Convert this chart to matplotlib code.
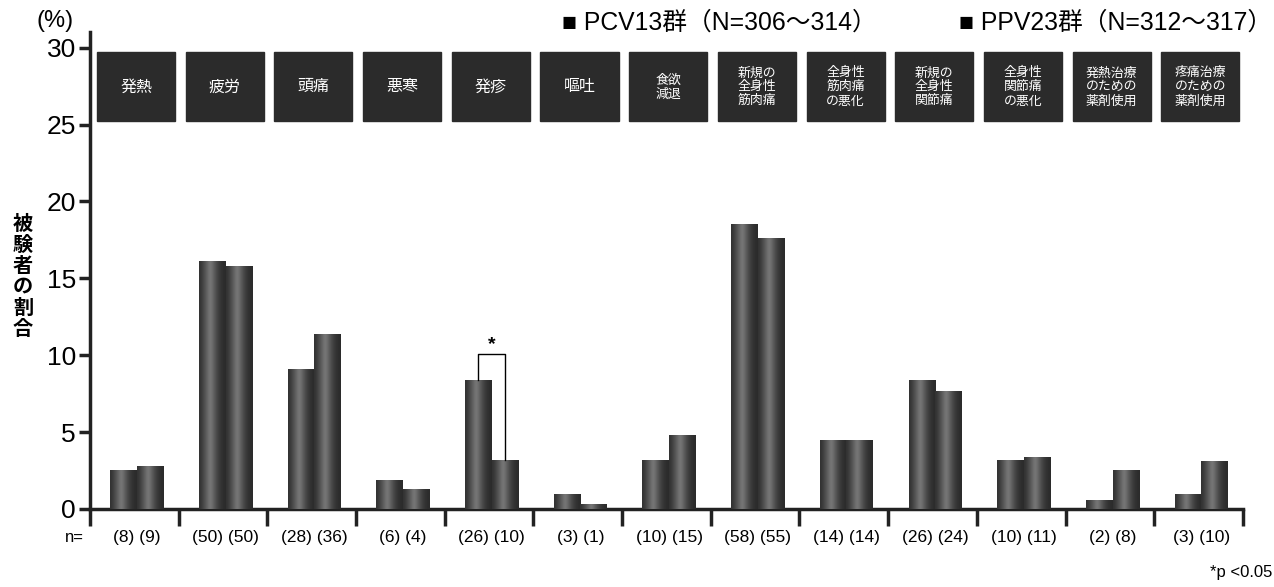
import matplotlib
matplotlib.use("Agg")
import matplotlib.pyplot as plt
from matplotlib.patches import Rectangle
import numpy as np

plt.rcParams['font.family'] = ['Liberation Sans', 'Noto Sans CJK JP', 'DejaVu Sans']

# data
labels = ['発熱', '疲労', '頭痛', '悪寒', '発疹', '嘔吐', '食欲\n減退',
          '新規の\n全身性\n筋肉痛', '全身性\n筋肉痛\nの悪化', '新規の\n全身性\n関節痛',
          '全身性\n関節痛\nの悪化', '発熱治療\nのための\n薬剤使用', '疼痛治療\nのための\n薬剤使用']
pcv13 = [2.5, 16.1, 9.1, 1.9, 8.4, 0.95, 3.2, 18.5, 4.5, 8.4, 3.2, 0.6, 0.95]
ppv23 = [2.8, 15.8, 11.4, 1.3, 3.2, 0.3, 4.8, 17.6, 4.5, 7.7, 3.4, 2.5, 3.1]
n_pcv = [8, 50, 28, 6, 26, 3, 10, 58, 14, 26, 10, 2, 3]
n_ppv = [9, 50, 36, 4, 10, 1, 15, 55, 14, 24, 11, 8, 10]
legend_pcv = 'PCV13群（N=306～314）'
legend_ppv = 'PPV23群（N=312～317）'
sig_index = 4  # 発疹, p<0.05

fig = plt.figure(figsize=(12.74, 5.87), dpi=100)
ax = fig.add_axes([0.0706, 0.133, 0.905, 0.812])

x = np.arange(len(labels)) + 0.53
w = 0.3
b1 = ax.bar(x - w / 2, pcv13, w, color='#333333', zorder=2)
b2 = ax.bar(x + w / 2, ppv23, w, color='#333333', zorder=2)

# cylinder-like shading on each bar
profile = np.array([[0.2, 0.26, 0.33, 0.4, 0.48, 0.42, 0.34, 0.27, 0.22, 0.19, 0.17]])
for bar in list(b1) + list(b2):
    bx, by = bar.get_x(), bar.get_y()
    bw, bh = bar.get_width(), bar.get_height()
    im = ax.imshow(profile, cmap='gray', vmin=0, vmax=1, aspect='auto',
                   extent=(bx, bx + bw, by, by + bh), zorder=3, interpolation='bicubic')
    im.set_clip_path(bar)

# category boxes at the top
for xi, lab in zip(x, labels):
    ax.add_patch(Rectangle((xi - 0.45, 25.2), 0.88, 4.55, color='#2b2b2b', zorder=2))
    nl = lab.count('\n')
    ax.text(xi - 0.01, 27.45, lab, color='white', ha='center', va='center',
            fontsize=11.5 if nl == 0 else 9.3, linespacing=1.1,
            family=['Noto Sans CJK JP'], zorder=4)

# significance bracket
i = sig_index
top = 10.1
ax.plot([x[i] - w / 2, x[i] - w / 2, x[i] + w / 2, x[i] + w / 2],
        [pcv13[i], top, top, ppv23[i]], color='black', lw=1, zorder=4)
ax.text(x[i], top + 0.05, '*', ha='center', va='bottom', fontsize=14, fontweight='bold')

ax.set_xlim(0, len(labels))
ax.set_ylim(0, 31)
ax.set_yticks(range(0, 31, 5))
ax.set_xticks(np.arange(len(labels) + 1))
ax.set_xticklabels([])
ax.tick_params(axis='y', labelsize=19, width=2.5, length=8, pad=2, color='#222222')
ax.tick_params(axis='x', width=2.5, length=12, direction='out', color='#222222')
for s in ['top', 'right']:
    ax.spines[s].set_visible(False)
for s in ['left', 'bottom']:
    ax.spines[s].set_linewidth(2.5)
    ax.spines[s].set_color('#222222')

# n labels
for xi, a, b in zip(x, n_pcv, n_ppv):
    ax.text(xi, -1.85, f'({a}) ({b})', ha='center', va='center', fontsize=12.5)
ax.text(-0.18, -1.85, 'n=', ha='center', va='center', fontsize=12)

fig.text(0.043, 0.965, '(%)', ha='center', va='center', fontsize=17)
fig.text(0.018, 0.53, '\n'.join('被験者の割合'), ha='center', va='center',
         fontsize=14.5, fontweight='bold', linespacing=1.0, family=['Noto Sans CJK JP'])

fig.text(0.441, 0.962, '■ ' + legend_pcv, ha='left', va='center', fontsize=17.8,
         family=['Liberation Sans', 'Noto Sans CJK JP'])
fig.text(0.753, 0.962, '■ ' + legend_ppv, ha='left', va='center', fontsize=17.8,
         family=['Liberation Sans', 'Noto Sans CJK JP'])
fig.text(0.95, 0.025, '*p <0.05', ha='left', va='center', fontsize=12)

fig.savefig('out.png', dpi=100)
